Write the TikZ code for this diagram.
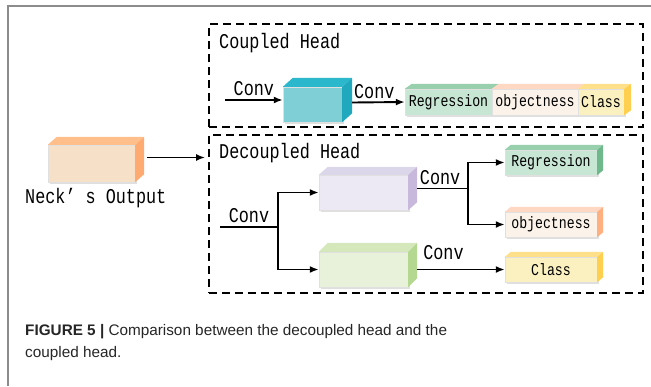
\documentclass[tikz,border=0pt]{standalone}
\usepackage{fontspec}
\setmainfont{Liberation Sans}
\newfontfamily\monofont[FakeStretch=0.8]{Liberation Mono}
\usetikzlibrary{positioning,arrows.meta,calc,shadows}

\definecolor{neckF}{HTML}{F6E0C8}\definecolor{neckT}{HTML}{FFBE8A}\definecolor{neckS}{HTML}{FFAA70}
\definecolor{cyanF}{HTML}{7FCFD6}\definecolor{cyanT}{HTML}{2BB8CC}\definecolor{cyanS}{HTML}{20A8BE}
\definecolor{regF}{HTML}{C8E6D4}\definecolor{regT}{HTML}{98D0AE}\definecolor{regS}{HTML}{6EB88C}
\definecolor{objF}{HTML}{FBF3EA}\definecolor{objT}{HTML}{FFD8C4}\definecolor{objS}{HTML}{FFB080}
\definecolor{clsF}{HTML}{FAF0C0}\definecolor{clsT}{HTML}{FFE08A}\definecolor{clsS}{HTML}{FFD050}
\definecolor{purF}{HTML}{ECE8F4}\definecolor{purT}{HTML}{DCD6EA}\definecolor{purS}{HTML}{C8B8DC}
\definecolor{grnF}{HTML}{E8F1DA}\definecolor{grnT}{HTML}{D4E8BC}\definecolor{grnS}{HTML}{B4D890}

% top face of a box node: name, colour, dx, dy
\newcommand{\cubetop}[4]{%
  \fill[#2] (#1.north west) -- ++(#3,-#4) -- ($(#1.north east)+(#3,-#4)$) -- (#1.north east) -- cycle;}
% side face of a box node: name, colour, dx, dy
\newcommand{\cubeside}[4]{%
  \fill[#2] (#1.north east) -- ++(#3,-#4) -- ($(#1.south east)+(#3,-#4)$) -- (#1.south east) -- cycle;}
\newcommand{\cubefaces}[5]{\cubetop{#1}{#2}{#4}{#5}\cubeside{#1}{#3}{#4}{#5}}

\begin{document}
\begin{tikzpicture}[x=1pt,y=-1pt,
    cube/.style={rectangle,inner sep=0pt,draw=black!12,line width=0.4pt,fill=#1,
      drop shadow={shadow xshift=1.5pt,shadow yshift=-1.5pt,opacity=.25}},
    headbox/.style={draw,dash pattern=on 8pt off 5pt,line width=1.7pt,inner sep=0pt,minimum width=434pt},
    arr/.style={line width=1.9pt,-{Latex[length=9pt,width=7pt]}},
    wire/.style={line width=1.9pt},
    conv/.style={font=\monofont\fontsize{21}{22}\selectfont,inner sep=3pt},
    title/.style={font=\monofont\fontsize{21}{22}\selectfont,inner sep=0pt,anchor=base west},
    lbl/.style={font=\monofont\fontsize{16.5}{18}\selectfont}]
  \useasboundingbox (0,0) rectangle (651,386);
  \draw[black!45,line width=1.4pt] (8,386) -- (8,6) -- (651,6);

  % dashed head boxes
  \node[headbox,minimum height=103pt] (cbox) at (426,75.5) {};
  \node[headbox,minimum height=158pt] (decbox) at (426,214) {};
  \node[title] (ctitle) at (219,48) {Coupled Head};
  \node[title] (dtitle) at (219,158) {Decoupled Head};

  % neck output
  \node[cube=neckF,minimum width=87pt,minimum height=37pt] (neck) at (91.5,163.5) {};
  \cubefaces{neck}{neckT}{neckS}{9}{8}
  \node[title] (necktxt) at (25,203) {Neck’ s Output};
  \coordinate (nout) at ($(neck.east)+(12,-6)$);
  \draw[arr,shorten >=3pt] (nout) -- (nout -| decbox.west);

  % coupled head
  \node[cube=cyanF,minimum width=59pt,minimum height=35pt] (chead) at (312.5,104.5) {};
  \cubefaces{chead}{cyanT}{cyanS}{10}{9}
  \node[cube=regF,lbl,minimum width=87pt,minimum height=26pt] (creg) at (448.5,102) {Regression};
  \node[cube=objF,lbl,minimum width=86pt,minimum height=26pt] (cobj) at (535,102) {objectness};
  \node[cube=clsF,lbl,minimum width=46pt,minimum height=26pt] (ccls) at (601,102) {Class};
  \cubetop{creg}{regT}{7}{5}
  \cubetop{cobj}{objT}{7}{5}
  \cubefaces{ccls}{clsT}{clsS}{7}{5}
  \coordinate (cin) at (225,100);
  \draw[arr] (cin) -- node[conv,above] {Conv} (cin -| chead.west);
  \draw[arr] (chead.east) ++(10,-2) -- node[conv,above,pos=0.42] {Conv} (creg.west);

  % decoupled head
  \node[cube=purF,minimum width=89pt,minimum height=35pt] (dbox1) at (363.5,192.5) {};
  \cubefaces{dbox1}{purT}{purS}{9}{8}
  \node[cube=grnF,minimum width=89pt,minimum height=35pt] (dbox2) at (363.5,269.5) {};
  \cubefaces{dbox2}{grnT}{grnS}{9}{9}
  \node[cube=regF,lbl,minimum width=92pt,minimum height=25pt] (dreg) at (551,162.5) {Regression};
  \cubefaces{dreg}{regT}{regS}{6}{5}
  \node[cube=objF,lbl,minimum width=92pt,minimum height=25pt] (dobj) at (551,224.5) {objectness};
  \cubefaces{dobj}{objT}{objS}{6}{5}
  \node[cube=clsF,lbl,minimum width=92pt,minimum height=25pt] (dcls) at (551,269.5) {Class};
  \cubefaces{dcls}{clsT}{clsS}{6}{5}

  \coordinate (din) at (220,227);
  \coordinate (dsplit) at (278,227);
  \draw[wire] (din) -- node[conv,above] {Conv} (dsplit);
  \draw[arr] (dsplit) |- (dbox1.west);
  \draw[arr] (dsplit) |- (dbox2.west);
  \draw[wire] (dbox1.east) ++(9,-4) -- node[conv,above,pos=0.45] {Conv} ++(51,0) coordinate (dsplit2);
  \draw[arr] (dsplit2) |- (dreg.west);
  \draw[arr] (dsplit2) |- (dobj.west);
  \draw[arr] (dbox2.east) ++(9,0) -- node[conv,above,pos=0.3,yshift=6pt] {Conv} (dcls.west);

  % caption
  \node[anchor=base west,inner sep=0pt,text=black!85,font=\fontsize{15.3}{18}\selectfont] (cap1) at (25,335)
    {\textbf{FIGURE 5 |} Comparison between the decoupled head and the};
  \node[anchor=base west,inner sep=0pt,text=black!85,font=\fontsize{15.3}{18}\selectfont] (cap2) at (25,357)
    {coupled head.};
\end{tikzpicture}
\end{document}
